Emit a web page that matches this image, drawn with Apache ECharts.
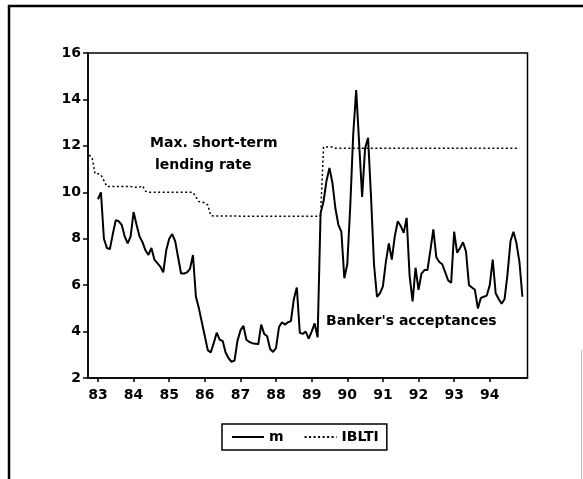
<!DOCTYPE html>
<html><head><meta charset="utf-8">
<script src="https://cdn.jsdelivr.net/npm/echarts@6/dist/echarts.min.js"></script>
<style>html,body{margin:0;padding:0;background:#fff}#c{width:583px;height:479px}</style>
</head><body><div id="c"></div>
<script>
// x-axis ticks (January of each year) and their labels
const yearTicks = [1983, 1984, 1985, 1986, 1987, 1988, 1989, 1990, 1991, 1992, 1993, 1994];
const yearLabels = ['83', '84', '85', '86', '87', '88', '89', '90', '91', '92', '93', '94'];

// Banker's acceptances, monthly from Jan 1983
const baStart = 1983;
const baValues = [
  9.7, 10.0, 8.0, 7.6, 7.55, 8.2, 8.8, 8.75, 8.6, 8.1, 7.8, 8.1,      // 1983
  9.15, 8.6, 8.1, 7.85, 7.5, 7.3, 7.6, 7.1, 6.95, 6.8, 6.55, 7.5,    // 1984
  8.0, 8.2, 7.9, 7.2, 6.5, 6.5, 6.55, 6.7, 7.3, 5.5, 5.0, 4.4,       // 1985
  3.8, 3.2, 3.1, 3.5, 3.95, 3.65, 3.6, 3.1, 2.85, 2.7, 2.75, 3.6,    // 1986
  4.05, 4.25, 3.65, 3.55, 3.5, 3.48, 3.45, 4.3, 3.9, 3.8, 3.25, 3.12, // 1987
  3.3, 4.2, 4.4, 4.3, 4.4, 4.45, 5.4, 5.9, 3.95, 3.9, 4.0, 3.7,      // 1988
  4.0, 4.35, 3.75, 9.1, 9.6, 10.5, 11.05, 10.4, 9.3, 8.6, 8.3, 6.3,  // 1989
  6.9, 9.4, 12.5, 14.4, 12.1, 9.8, 11.9, 12.35, 9.8, 6.9, 5.5, 5.65, // 1990
  5.95, 7.0, 7.8, 7.1, 8.1, 8.75, 8.55, 8.25, 8.9, 6.4, 5.3, 6.75,   // 1991
  5.8, 6.5, 6.65, 6.65, 7.5, 8.4, 7.2, 7.0, 6.9, 6.55, 6.2, 6.1,     // 1992
  8.3, 7.4, 7.6, 7.85, 7.45, 6.0, 5.9, 5.8, 5.0, 5.45, 5.5, 5.55,    // 1993
  6.0, 7.1, 5.65, 5.4, 5.2, 5.4, 6.5, 7.9, 8.3, 7.8, 7.0, 5.5        // 1994
];

// Maximum short-term lending rate, monthly from Oct 1982
const ibltiStart = 1982.75;
const ibltiValues = [
  11.6, 11.5, 10.8,                                                        // 1982
  10.8, 10.75, 10.5, 10.25, 10.25, 10.25, 10.25, 10.25, 10.25, 10.25, 10.25, 10.25, // 1983
  10.22, 10.22, 10.22, 10.28, 10.05, 10.0, 10.0, 10.0, 10.0, 10.0, 10.0, 10.0,     // 1984
  10.0, 10.0, 10.0, 10.0, 10.0, 10.0, 10.0, 10.0, 10.0, 9.8, 9.6, 9.58,            // 1985
  9.55, 9.45, 9.0, 8.98, 8.98, 8.98, 8.98, 8.98, 8.98, 8.98, 8.98, 8.98,           // 1986
  8.97, 8.97, 8.97, 8.97, 8.97, 8.97, 8.97, 8.97, 8.97, 8.97, 8.97, 8.97,          // 1987
  8.97, 8.97, 8.97, 8.97, 8.97, 8.97, 8.97, 8.97, 8.97, 8.97, 8.97, 8.97,          // 1988
  8.97, 8.97, 8.97, 9.0, 11.95, 11.95, 11.95, 11.95, 11.9, 11.9, 11.9, 11.9,       // 1989
  11.9, 11.9, 11.9, 11.9, 11.9, 11.9, 11.9, 11.9, 11.9, 11.9, 11.9, 11.9,          // 1990
  11.9, 11.9, 11.9, 11.9, 11.9, 11.9, 11.9, 11.9, 11.9, 11.9, 11.9, 11.9,          // 1991
  11.9, 11.9, 11.9, 11.9, 11.9, 11.9, 11.9, 11.9, 11.9, 11.9, 11.9, 11.9,          // 1992
  11.9, 11.9, 11.9, 11.9, 11.9, 11.9, 11.9, 11.9, 11.9, 11.9, 11.9, 11.9,          // 1993
  11.9, 11.9, 11.9, 11.9, 11.9, 11.9, 11.9, 11.9, 11.9, 11.9, 11.9                 // 1994
];

const seriesNames = ['m', 'IBLTI'];
const noteLines = ['Max. short-term', 'lending rate', "Banker's acceptances"];

function monthly(start, vals) { return vals.map((v, i) => [start + i / 12, v]); }

const FONT = '"DejaVu Sans", sans-serif';
const chart = echarts.init(document.getElementById('c'), null, { renderer: 'canvas' });
chart.setOption({
  animation: false,
  backgroundColor: '#fff',
  grid: { left: 88, top: 53, right: 55.5, bottom: 101, show: true, borderColor: '#000', borderWidth: 1.5, containLabel: false },
  xAxis: {
    type: 'value', min: 1982.72, max: 1995.06,
    axisLine: { show: true, lineStyle: { color: '#000', width: 1.5 } },
    axisTick: { show: true, customValues: yearTicks, length: 4, lineStyle: { color: '#000', width: 1.5 } },
    axisLabel: { customValues: yearTicks, margin: 10, color: '#000', fontFamily: FONT, fontWeight: 'bold', fontSize: 14,
      formatter: v => yearLabels[yearTicks.indexOf(Math.round(v))] },
    splitLine: { show: false }
  },
  yAxis: {
    type: 'value', min: 2, max: 16, interval: 2,
    axisLine: { show: true, lineStyle: { color: '#000', width: 1.5 } },
    axisTick: { show: true, length: 5, lineStyle: { color: '#000', width: 1.5 } },
    axisLabel: { margin: 7, color: '#000', fontFamily: FONT, fontWeight: 'bold', fontSize: 14 },
    splitLine: { show: false }
  },
  legend: {
    data: seriesNames, left: 222, top: 424, orient: 'horizontal',
    borderColor: '#000', borderWidth: 1.5, borderRadius: 0, padding: [5, 8, 5, 9],
    itemWidth: 32, itemHeight: 14, itemGap: 20,
    itemStyle: { opacity: 0 },
    textStyle: { color: '#000', fontFamily: FONT, fontWeight: 'bold', fontSize: 14, lineHeight: 16 }
  },
  series: [
    { name: seriesNames[0], type: 'line', data: monthly(baStart, baValues), symbol: 'none', showSymbol: false,
      lineStyle: { color: '#000', width: 2 }, itemStyle: { color: '#000' }, z: 3 },
    { name: seriesNames[1], type: 'line', data: monthly(ibltiStart, ibltiValues), symbol: 'none', showSymbol: false,
      lineStyle: { color: '#000', width: 1.5, type: [2, 2.5] }, itemStyle: { color: '#000' }, z: 2 }
  ],
  graphic: [
    { type: 'line', shape: { x1: 8, y1: 6, x2: 583, y2: 6 }, style: { stroke: '#000', lineWidth: 2.5 } },
    { type: 'line', shape: { x1: 9, y1: 5, x2: 9, y2: 479 }, style: { stroke: '#000', lineWidth: 2.5 } },
    { type: 'line', shape: { x1: 581.5, y1: 350, x2: 581.5, y2: 479 }, style: { stroke: '#bbb', lineWidth: 1 } },
    { type: 'text', x: 150, y: 143.3, style: { text: noteLines[0], font: 'bold 14px ' + FONT, fill: '#000', verticalAlign: 'middle' } },
    { type: 'text', x: 155, y: 165, style: { text: noteLines[1], font: 'bold 14px ' + FONT, fill: '#000', verticalAlign: 'middle' } },
    { type: 'text', x: 326, y: 321.7, style: { text: noteLines[2], font: 'bold 14px ' + FONT, fill: '#000', verticalAlign: 'middle' } }
  ]
});
</script></body></html>
